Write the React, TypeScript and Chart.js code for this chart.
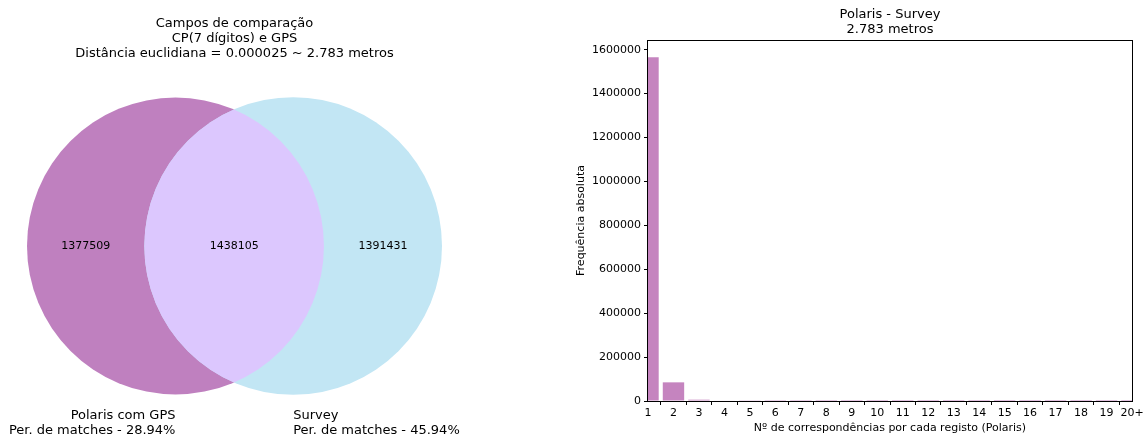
import React, { useEffect, useRef } from "react";
import { Chart, registerables } from "chart.js";

Chart.register(...registerables);
Chart.defaults.font.family = "'DejaVu Sans', sans-serif";
Chart.defaults.color = "#000";

// ---------- Venn data ----------
const vennTitle = [
  "Campos de comparação",
  "CP(7 dígitos) e GPS",
  "Distância euclidiana = 0.000025 ~ 2.783 metros",
];
const vennSetNames = ["Polaris com GPS", "Survey"];
const vennMatchPct = ["Per. de matches - 28.94%", "Per. de matches - 45.94%"];
// [A only, B only, A ∩ B]
const vennSubsets = [1377509, 1391431, 1438105];
const vennColors = ["rgb(191,128,191)", "rgb(194,230,244)", "rgb(220,199,254)"];

// ---------- Bar data ----------
const barTitle = ["Polaris - Survey", "2.783 metros"];
const barCategories = [1, 2, 3, 4, 5, 6, 7, 8, 9, 10, 11, 12, 13, 14, 15, 16, 17, 18, 19, 20];
const barLabels = ["1", "2", "3", "4", "5", "6", "7", "8", "9", "10", "11", "12", "13", "14", "15", "16", "17", "18", "19", "20+"];
const barValues = [1566000, 85000, 6000, 2500, 1200, 700, 450, 300, 200, 150, 100, 80, 60, 50, 35, 30, 25, 20, 15, 60];
const yTickValues = [0, 200000, 400000, 600000, 800000, 1000000, 1200000, 1400000, 1600000];
const barColor = "rgb(197,132,191)";
const xAxisTitle = "Nº de correspondências por cada registo (Polaris)";
const yAxisTitle = "Frequência absoluta";

// ---------- Venn geometry ----------
function lensArea(r1: number, r2: number, d: number) {
  if (d >= r1 + r2) return 0;
  if (d <= Math.abs(r1 - r2)) return Math.PI * Math.min(r1, r2) ** 2;
  const a1 = r1 * r1 * Math.acos((d * d + r1 * r1 - r2 * r2) / (2 * d * r1));
  const a2 = r2 * r2 * Math.acos((d * d + r2 * r2 - r1 * r1) / (2 * d * r2));
  const t = 0.5 * Math.sqrt((-d + r1 + r2) * (d + r1 - r2) * (d - r1 + r2) * (d + r1 + r2));
  return a1 + a2 - t;
}
function solveDistance(r1: number, r2: number, target: number) {
  let lo = Math.abs(r1 - r2);
  let hi = r1 + r2;
  for (let i = 0; i < 80; i++) {
    const mid = (lo + hi) / 2;
    if (lensArea(r1, r2, mid) > target) lo = mid;
    else hi = mid;
  }
  return (lo + hi) / 2;
}
const vennTotal = vennSubsets[0] + vennSubsets[1] + vennSubsets[2];
const rA = Math.sqrt((vennSubsets[0] + vennSubsets[2]) / vennTotal / Math.PI);
const rB = Math.sqrt((vennSubsets[1] + vennSubsets[2]) / vennTotal / Math.PI);
const dAB = solveDistance(rA, rB, vennSubsets[2] / vennTotal);

const LEFT_W = 470;
const LEFT_H = 437;
const leftPad = { left: 27, right: 28, top: 0, bottom: 42 };
const leftTitlePad = { top: 16, bottom: 36 };
const areaW = LEFT_W - leftPad.left - leftPad.right;
const areaH = LEFT_H - leftPad.bottom - leftTitlePad.top - leftTitlePad.bottom - 45;
const unitPx = areaW / (rA + dAB + rB);
const halfH = areaH / 2 / unitPx;

function pxRadius(chart: any, r: number) {
  const xs = chart.scales.x;
  return Math.abs(xs.getPixelForValue(r) - xs.getPixelForValue(0));
}

const vennPlugin = {
  id: "vennPlugin",
  afterDatasetsDraw(chart: any) {
    const ctx = chart.ctx;
    const xs = chart.scales.x;
    const ys = chart.scales.y;
    const ax = xs.getPixelForValue(0);
    const bx = xs.getPixelForValue(dAB);
    const cy = ys.getPixelForValue(0);
    const ra = pxRadius(chart, rA);
    const rb = pxRadius(chart, rB);
    // intersection
    ctx.save();
    ctx.beginPath();
    ctx.arc(ax, cy, ra, 0, Math.PI * 2);
    ctx.clip();
    ctx.beginPath();
    ctx.arc(bx, cy, rb, 0, Math.PI * 2);
    ctx.fillStyle = vennColors[2];
    ctx.fill();
    ctx.restore();

    // subset labels
    ctx.save();
    ctx.fillStyle = "#000";
    ctx.font = "11px 'DejaVu Sans', sans-serif";
    ctx.textAlign = "center";
    ctx.textBaseline = "middle";
    const posA = xs.getPixelForValue((-rA + (dAB - rB)) / 2);
    const posAB = xs.getPixelForValue((dAB - rB + rA) / 2);
    const posB = xs.getPixelForValue((rA + dAB + rB) / 2);
    ctx.fillText(String(vennSubsets[0]), posA, cy);
    ctx.fillText(String(vennSubsets[2]), posAB, cy);
    ctx.fillText(String(vennSubsets[1]), posB, cy);

    // set labels
    ctx.font = "13px 'DejaVu Sans', sans-serif";
    const yA = ys.getPixelForValue(-rA);
    const yB = ys.getPixelForValue(-rB);
    ctx.textAlign = "right";
    ctx.fillText(vennSetNames[0], ax, yA + 21);
    ctx.fillText(vennMatchPct[0], ax, yA + 36);
    ctx.textAlign = "left";
    ctx.fillText(vennSetNames[1], bx, yB + 21);
    ctx.fillText(vennMatchPct[1], bx, yB + 36);
    ctx.restore();
  },
};

const framePlugin = {
  id: "framePlugin",
  afterDatasetsDraw(chart: any) {
    const { left, right, top, bottom } = chart.chartArea;
    const ctx = chart.ctx;
    ctx.save();
    ctx.strokeStyle = "#000";
    ctx.lineWidth = 1;
    ctx.strokeRect(Math.round(left) - 0.5, Math.round(top) + 0.5, Math.round(right - left) + 1, Math.round(bottom - top));
    ctx.restore();
  },
};

export default function App() {
  const leftRef = useRef<HTMLCanvasElement>(null);
  const rightRef = useRef<HTMLCanvasElement>(null);

  useEffect(() => {
    const radiusFn = (c: any) => pxRadius(c.chart, c.raw ? c.raw.r : 0);
    const left = new Chart(leftRef.current as HTMLCanvasElement, {
      type: "scatter",
      data: {
        datasets: [
          {
            data: [
              { x: 0, y: 0, r: rA },
              { x: dAB, y: 0, r: rB },
            ] as any,
            backgroundColor: [vennColors[0], vennColors[1]],
            borderWidth: 0,
            pointRadius: radiusFn as any,
            pointHoverRadius: radiusFn as any,
            clip: false as any,
          },
        ],
      },
      options: {
        responsive: false,
        animation: false,
        events: [],
        layout: { padding: leftPad },
        plugins: {
          legend: { display: false },
          tooltip: { enabled: false },
          title: {
            display: true,
            text: vennTitle,
            color: "#000",
            font: { size: 13, weight: "normal", lineHeight: "15px" } as any,
            padding: leftTitlePad,
          },
        },
        scales: {
          x: { display: false, min: -rA, max: dAB + rB },
          y: { display: false, min: -halfH, max: halfH },
        },
      },
      plugins: [vennPlugin],
    });

    const yMax = Math.max(...barValues) * 1.05;
    const right = new Chart(rightRef.current as HTMLCanvasElement, {
      type: "bar",
      data: {
        datasets: [
          {
            data: barCategories.map((c, i) => ({ x: c, y: barValues[i] })) as any,
            backgroundColor: barColor,
            borderWidth: 0,
            barPercentage: 0.84,
            categoryPercentage: 1,
          },
        ],
      },
      options: {
        responsive: false,
        animation: false,
        events: [],
        layout: { padding: { left: 0, right: 14, top: 0, bottom: 0 } },
        plugins: {
          legend: { display: false },
          tooltip: { enabled: false },
          title: {
            display: true,
            text: barTitle,
            fullSize: false,
            color: "#000",
            font: { size: 13, weight: "normal", lineHeight: "15px" } as any,
            padding: { top: 7, bottom: 3 },
          },
        },
        scales: {
          x: {
            type: "linear",
            min: 1,
            max: 20,
            offset: false,
            grid: { drawOnChartArea: false, drawTicks: true, tickLength: 4, tickColor: "#000", tickWidth: 1 },
            border: { display: false },
            ticks: {
              autoSkip: false,
              maxRotation: 0,
              color: "#000",
              font: { size: 11 },
              padding: 2,
              callback: (v: any) => barLabels[Number(v) - 1] ?? "",
            },
            afterBuildTicks: (s: any) => {
              s.ticks = barCategories.map((v) => ({ value: v }));
            },
            title: { display: true, text: xAxisTitle, color: "#000", font: { size: 11 }, padding: { top: 0, bottom: 2 } },
            afterFit: (s: any) => {
              s.height = 36;
            },
          },
          y: {
            min: 0,
            max: yMax,
            grid: { drawOnChartArea: false, drawTicks: true, tickLength: 4, tickColor: "#000", tickWidth: 1 },
            border: { display: false },
            ticks: {
              color: "#000",
              font: { size: 11 },
              padding: 3,
              callback: (v: any) => String(v),
            },
            afterBuildTicks: (s: any) => {
              s.ticks = yTickValues.map((v) => ({ value: v }));
            },
            title: { display: true, text: yAxisTitle, color: "#000", font: { size: 11 }, padding: { top: 15, bottom: 0 } },
            afterFit: (s: any) => {
              s.width = 88;
            },
          },
        } as any,
      },
      plugins: [framePlugin],
    });

    return () => {
      left.destroy();
      right.destroy();
    };
  }, []);

  return (
    <div style={{ position: "fixed", left: 0, top: 0, width: 1146, height: 437, background: "#fff" }}>
      <canvas ref={leftRef} width={LEFT_W} height={LEFT_H} style={{ position: "absolute", left: 0, top: 0 }} />
      <canvas ref={rightRef} width={586} height={437} style={{ position: "absolute", left: 560, top: 0 }} />
    </div>
  );
}
